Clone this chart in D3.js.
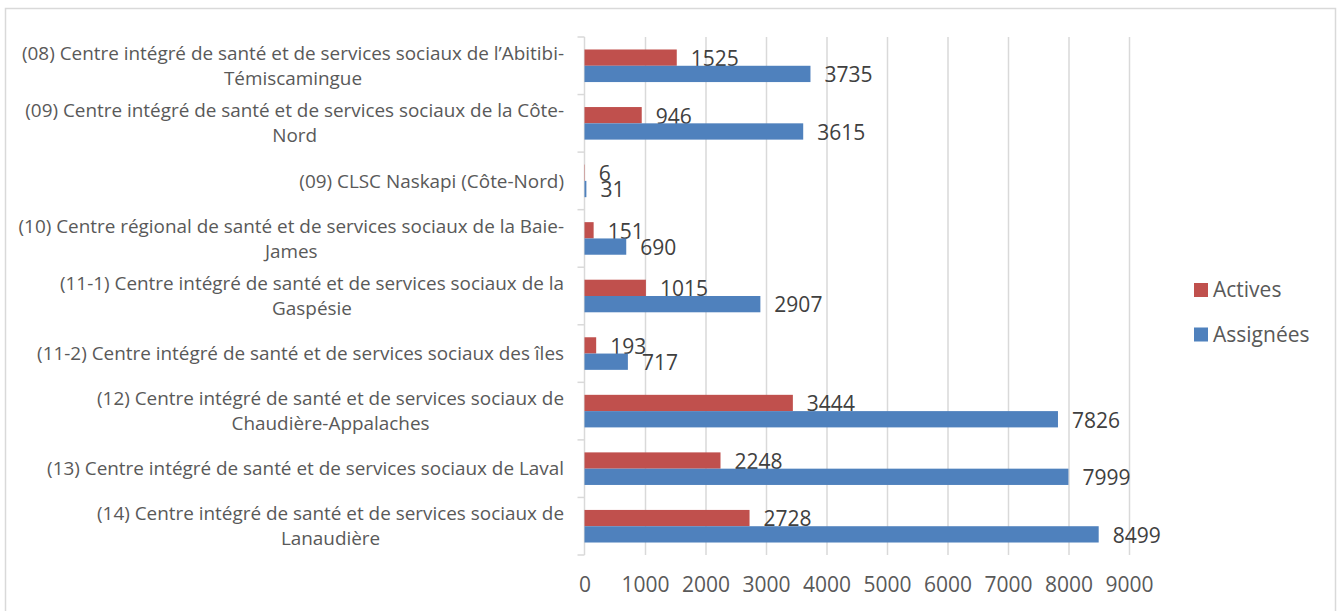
<!DOCTYPE html>
<html>
<head>
<meta charset="utf-8">
<script src="https://cdn.jsdelivr.net/npm/d3@7"></script>
<style>
  html, body { margin: 0; padding: 0; background: #fff; }
  svg { display: block; }
  text { font-family: "Open Sans", "Noto Sans", sans-serif; }
</style>
</head>
<body>
<svg id="chart" width="1339" height="611"></svg>
<script>
// ---- data ----
const categories = [
  "(08) Centre intégré de santé et de services sociaux de l’Abitibi-Témiscamingue",
  "(09) Centre intégré de santé et de services sociaux de la Côte-Nord",
  "(09) CLSC Naskapi (Côte-Nord)",
  "(10) Centre régional de santé et de services sociaux de la Baie-James",
  "(11-1) Centre intégré de santé et de services sociaux de la Gaspésie",
  "(11-2) Centre intégré de santé et de services sociaux des îles",
  "(12) Centre intégré de santé et de services sociaux de Chaudière-Appalaches",
  "(13) Centre intégré de santé et de services sociaux de Laval",
  "(14) Centre intégré de santé et de services sociaux de Lanaudière"
];
const categoryLines = [
  ["(08) Centre intégré de santé et de services sociaux de l’Abitibi-", "Témiscamingue"],
  ["(09) Centre intégré de santé et de services sociaux de la Côte-", "Nord"],
  ["(09) CLSC Naskapi (Côte-Nord)"],
  ["(10) Centre régional de santé et de services sociaux de la Baie-", "James"],
  ["(11-1) Centre intégré de santé et de services sociaux de la", "Gaspésie"],
  ["(11-2) Centre intégré de santé et de services sociaux des îles"],
  ["(12) Centre intégré de santé et de services sociaux de", "Chaudière-Appalaches"],
  ["(13) Centre intégré de santé et de services sociaux de Laval"],
  ["(14) Centre intégré de santé et de services sociaux de", "Lanaudière"]
];
const seriesNames = ["Actives", "Assignées"];
const actives   = [1525, 946, 6, 151, 1015, 193, 3444, 2248, 2728];
const assignees = [3735, 3615, 31, 690, 2907, 717, 7826, 7999, 8499];
const xTicks = [0, 1000, 2000, 3000, 4000, 5000, 6000, 7000, 8000, 9000];
const colors = { "Actives": "#C0504D", "Assignées": "#4F81BD" };

const seriesValues = { "Actives": actives, "Assignées": assignees };

// ---- layout ----
const svg = d3.select("#chart");
const plot = { left: 584.5, right: 1129, top: 37, bottom: 555 };

// outer frame
svg.append("rect")
  .attr("x", 5.5).attr("y", 8.5)
  .attr("width", 1330).attr("height", 620)
  .attr("fill", "none").attr("stroke", "#d9d9d9").attr("stroke-width", 1.5);

const x = d3.scaleLinear().domain([0, 9000]).range([plot.left, plot.right]);
const p = 0.434;
const y = d3.scaleBand().domain(categories).range([plot.top, plot.bottom])
  .paddingInner(p).paddingOuter(p / 2);
const ySub = d3.scaleBand().domain(seriesNames).range([0, y.bandwidth()]);

// gridlines
const grid = svg.append("g")
  .attr("transform", `translate(0,${plot.bottom})`)
  .call(d3.axisBottom(x).tickValues(xTicks.slice(1)).tickSize(-(plot.bottom - plot.top)).tickFormat(""));
grid.select(".domain").remove();
grid.selectAll(".tick line").attr("stroke", "#d9d9d9").attr("stroke-width", 1.5);

// x tick labels
const xAxis = svg.append("g")
  .attr("transform", `translate(0,${plot.bottom})`)
  .call(d3.axisBottom(x).tickValues(xTicks).tickSize(0).tickPadding(0).tickFormat(d3.format("d")));
xAxis.select(".domain").remove();
xAxis.selectAll(".tick text")
  .attr("y", 30).attr("dy", "0.35em")
  .attr("font-family", "Open Sans").attr("font-size", 21).attr("fill", "#595959");

// category axis (vertical line + boundary ticks)
const boundaries = d3.range(categories.length + 1).map(i => plot.top + i * y.step());
svg.append("line")
  .attr("x1", plot.left).attr("x2", plot.left)
  .attr("y1", plot.top).attr("y2", plot.bottom)
  .attr("stroke", "#d9d9d9").attr("stroke-width", 1.5);
svg.append("g").selectAll("line").data(boundaries).join("line")
  .attr("x1", plot.left - 7).attr("x2", plot.left)
  .attr("y1", d => d).attr("y2", d => d)
  .attr("stroke", "#d9d9d9").attr("stroke-width", 1.5);

// bars
const groups = svg.append("g").selectAll("g").data(categories).join("g")
  .attr("transform", d => `translate(0,${y(d)})`);
seriesNames.forEach(s => {
  groups.append("rect")
    .attr("x", plot.left)
    .attr("y", ySub(s))
    .attr("width", (d, i) => x(seriesValues[s][i]) - x(0))
    .attr("height", ySub.bandwidth())
    .attr("fill", colors[s]);
  groups.append("text")
    .attr("x", (d, i) => x(seriesValues[s][i]) + 14)
    .attr("y", ySub(s) + ySub.bandwidth() / 2 + 1)
    .attr("dy", "0.35em")
    .attr("font-size", 21).attr("fill", "#404040")
    .text((d, i) => seriesValues[s][i]);
});

// category labels: block right-aligned, lines centered within block
const labelRight = 564;
const lineH = 25;
const labelG = svg.append("g");
categories.forEach((c, i) => {
  const lines = categoryLines[i];
  const g = labelG.append("g");
  const cy = y(c) + y.bandwidth() / 2;
  const texts = lines.map((ln, j) => g.append("text")
    .attr("y", cy + (j - (lines.length - 1) / 2) * lineH)
    .attr("dy", "0.35em")
    .attr("font-size", 18.9).attr("fill", "#595959")
    .attr("text-anchor", "middle")
    .text(ln));
  const maxW = d3.max(texts, t => t.node().getComputedTextLength());
  texts.forEach(t => t.attr("x", labelRight - maxW / 2));
});

// legend
const legend = svg.append("g").attr("transform", "translate(1194,290)");
seriesNames.forEach((s, i) => {
  const g = legend.append("g").attr("transform", `translate(0,${i * 44.5})`);
  g.append("rect").attr("x", 0).attr("y", -7).attr("width", 14).attr("height", 14).attr("fill", colors[s]);
  g.append("text").attr("x", 19).attr("y", 0).attr("dy", "0.35em")
    .attr("font-size", 21).attr("fill", "#595959").text(s);
});
</script>
</body>
</html>
